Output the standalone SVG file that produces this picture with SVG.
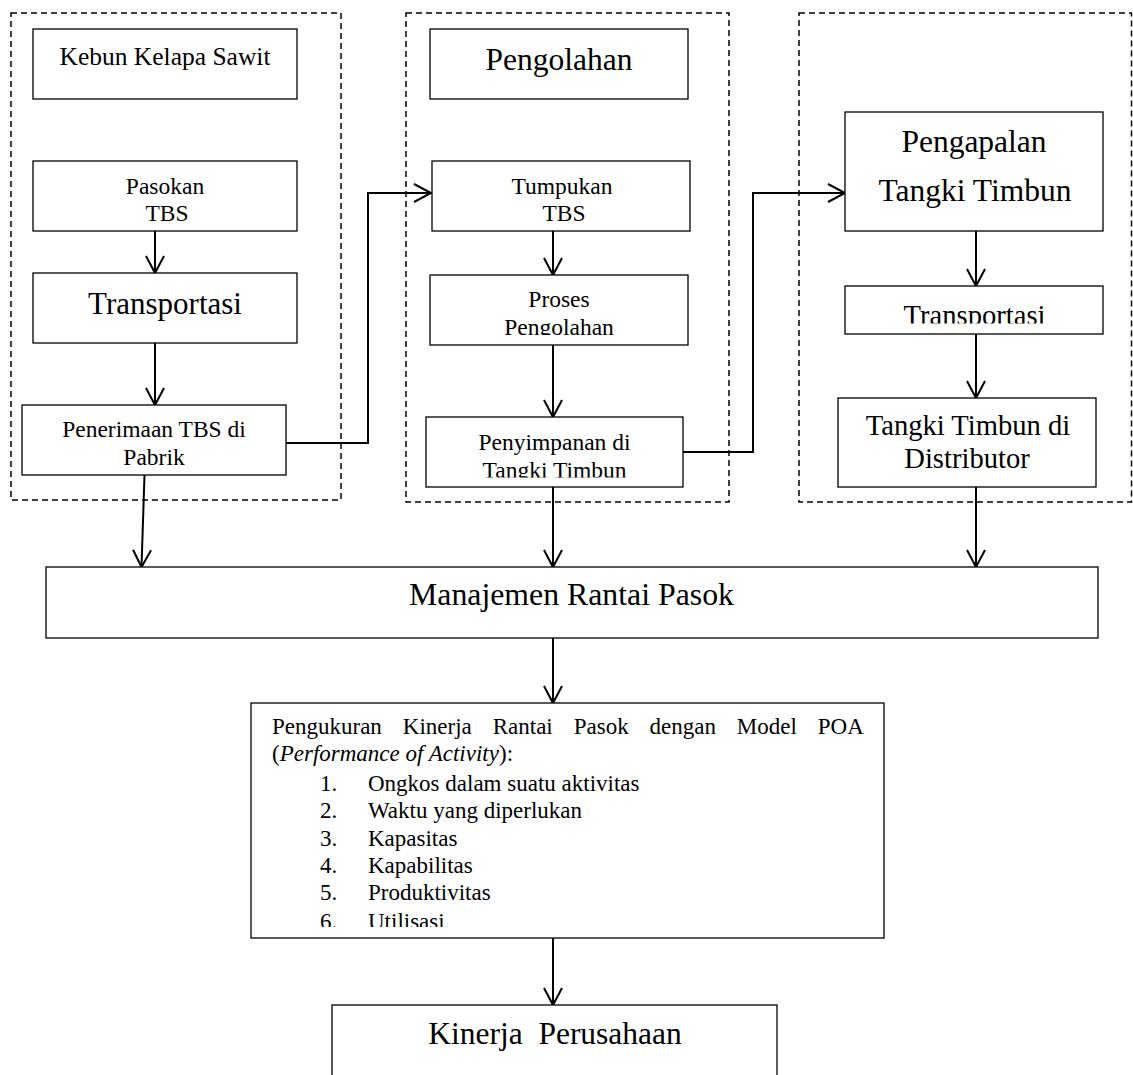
<svg xmlns="http://www.w3.org/2000/svg" width="1133" height="1075" viewBox="0 0 1133 1075">
<style>
  text { font-family: "Liberation Serif", "Times New Roman", serif; fill: #000; }
  .box { fill: #fff; stroke: #000; stroke-width: 1.3; }
  .dash { fill: none; stroke: #000; stroke-width: 1.5; stroke-dasharray: 6 4; }
  .c { text-anchor: middle; }
  .s { font-size: 23.5px; }
  .m { font-size: 28.6px; }
  .l { font-size: 31.5px; }
  .p { font-size: 23px; }
  .conn { fill: none; stroke: #000; stroke-width: 2; }
</style>
<defs>
  <marker id="arr" markerUnits="userSpaceOnUse" viewBox="-20 -11 24 22" refX="0" refY="0" markerWidth="24" markerHeight="22" orient="auto" overflow="visible">
    <path d="M-17,-9 L0,0 L-17,9" fill="none" stroke="#000" stroke-width="2"/>
  </marker>
  <clipPath id="clipProses"><rect x="430" y="275" width="258" height="60"/></clipPath>
  <clipPath id="clipSimpan"><rect x="426" y="417" width="257" height="60.5"/></clipPath>
  <clipPath id="clipTrans2"><rect x="845" y="286" width="258" height="37.5"/></clipPath>
  <clipPath id="clipPOA"><rect x="251" y="703" width="633" height="224"/></clipPath>
</defs>

<g id="group-kebun">
  <rect class="dash" x="11" y="13" width="330" height="487"/>
</g>
<g id="group-pengolahan">
  <rect class="dash" x="406" y="13" width="323" height="489"/>
</g>
<g id="group-distribusi">
  <rect class="dash" x="799" y="13" width="332.5" height="489"/>
</g>

<g id="connectors">
  <line class="conn" x1="155" y1="231" x2="155" y2="273" marker-end="url(#arr)"/>
  <line class="conn" x1="155" y1="343" x2="155" y2="405" marker-end="url(#arr)"/>
  <polyline class="conn" points="286,443 368,443 368,193 431,193" marker-end="url(#arr)"/>
  <line class="conn" x1="553" y1="231" x2="553" y2="275" marker-end="url(#arr)"/>
  <line class="conn" x1="553" y1="345" x2="553" y2="417" marker-end="url(#arr)"/>
  <polyline class="conn" points="683,452 753,452 753,193 845,193" marker-end="url(#arr)"/>
  <line class="conn" x1="976" y1="231" x2="976" y2="286" marker-end="url(#arr)"/>
  <line class="conn" x1="976" y1="334" x2="976" y2="398" marker-end="url(#arr)"/>
  <line class="conn" x1="144.5" y1="475" x2="141.5" y2="567" marker-end="url(#arr)"/>
  <line class="conn" x1="553" y1="487" x2="553" y2="567" marker-end="url(#arr)"/>
  <line class="conn" x1="976" y1="487" x2="976" y2="567" marker-end="url(#arr)"/>
  <line class="conn" x1="553" y1="638" x2="553" y2="703" marker-end="url(#arr)"/>
  <line class="conn" x1="553" y1="938" x2="553" y2="1005" marker-end="url(#arr)"/>
</g>

<g id="node-kebun">
  <rect class="box" x="33" y="29" width="264" height="70"/>
  <text class="c" x="165" y="65" font-size="25.5">Kebun Kelapa Sawit</text>
</g>
<g id="node-pasokan">
  <rect class="box" x="33" y="161" width="264" height="70"/>
  <text class="c s" x="165" y="194">Pasokan</text>
  <text class="c s" x="167" y="221">TBS</text>
</g>
<g id="node-transportasi1">
  <rect class="box" x="33" y="273" width="264" height="70"/>
  <text class="c" x="165" y="314" font-size="31px">Transportasi</text>
</g>
<g id="node-penerimaan">
  <rect class="box" x="22" y="405" width="264" height="70"/>
  <text class="c s" x="154" y="437">Penerimaan TBS di</text>
  <text class="c s" x="154" y="465">Pabrik</text>
</g>

<g id="node-pengolahan">
  <rect class="box" x="430" y="29" width="258" height="70"/>
  <text class="c l" x="559" y="70">Pengolahan</text>
</g>
<g id="node-tumpukan">
  <rect class="box" x="432" y="161" width="258" height="70"/>
  <text class="c s" x="562" y="194">Tumpukan</text>
  <text class="c s" x="564" y="221">TBS</text>
</g>
<g id="node-proses">
  <rect class="box" x="430" y="275" width="258" height="70"/>
  <g clip-path="url(#clipProses)">
    <text class="c s" x="559" y="307">Proses</text>
    <text class="c s" x="559" y="335">Pengolahan</text>
  </g>
</g>
<g id="node-penyimpanan">
  <rect class="box" x="426" y="417" width="257" height="70"/>
  <g clip-path="url(#clipSimpan)">
    <text class="c s" x="554.5" y="450">Penyimpanan di</text>
    <text class="c s" x="554.5" y="478">Tangki Timbun</text>
  </g>
</g>

<g id="node-pengapalan">
  <rect class="box" x="845" y="112" width="258" height="119"/>
  <text class="c l" x="974" y="152">Pengapalan</text>
  <text class="c l" x="975" y="201">Tangki Timbun</text>
</g>
<g id="node-transportasi2">
  <rect class="box" x="845" y="286" width="258" height="48"/>
  <g clip-path="url(#clipTrans2)">
    <text class="c m" x="974.5" y="324.5">Transportasi</text>
  </g>
</g>
<g id="node-distributor">
  <rect class="box" x="838" y="398" width="258" height="89"/>
  <text class="c m" x="968" y="435">Tangki Timbun di</text>
  <text class="c m" x="967" y="468">Distributor</text>
</g>

<g id="node-manajemen">
  <rect class="box" x="46" y="567" width="1052" height="71"/>
  <text class="c" x="571.5" y="605" font-size="31.8px">Manajemen Rantai Pasok</text>
</g>

<g id="node-poa">
  <rect class="box" x="251" y="703" width="633" height="235"/>
  <g clip-path="url(#clipPOA)">
    <text class="p" y="734"><tspan x="272">Pengukuran</tspan><tspan x="402.8">Kinerja</tspan><tspan x="492.7">Rantai</tspan><tspan x="573.7">Pasok</tspan><tspan x="649.5">dengan</tspan><tspan x="736.8">Model</tspan><tspan x="817.8">POA</tspan></text>
    <text class="p" x="272" y="761">(<tspan font-style="italic">Performance of Activity</tspan>):</text>
    <text class="p" x="320" y="791">1.</text><text class="p" x="368" y="791">Ongkos dalam suatu aktivitas</text>
    <text class="p" x="320" y="818.3">2.</text><text class="p" x="368" y="818.3">Waktu yang diperlukan</text>
    <text class="p" x="320" y="845.6">3.</text><text class="p" x="368" y="845.6">Kapasitas</text>
    <text class="p" x="320" y="872.9">4.</text><text class="p" x="368" y="872.9">Kapabilitas</text>
    <text class="p" x="320" y="900.2">5.</text><text class="p" x="368" y="900.2">Produktivitas</text>
    <text class="p" x="320" y="928.5">6.</text><text class="p" x="368" y="928.5">Utilisasi</text>
  </g>
</g>

<g id="node-kinerja">
  <rect class="box" x="332" y="1005" width="445" height="120"/>
  <text class="c l" x="555" y="1044" style="white-space:pre">Kinerja  Perusahaan</text>
</g>
</svg>
